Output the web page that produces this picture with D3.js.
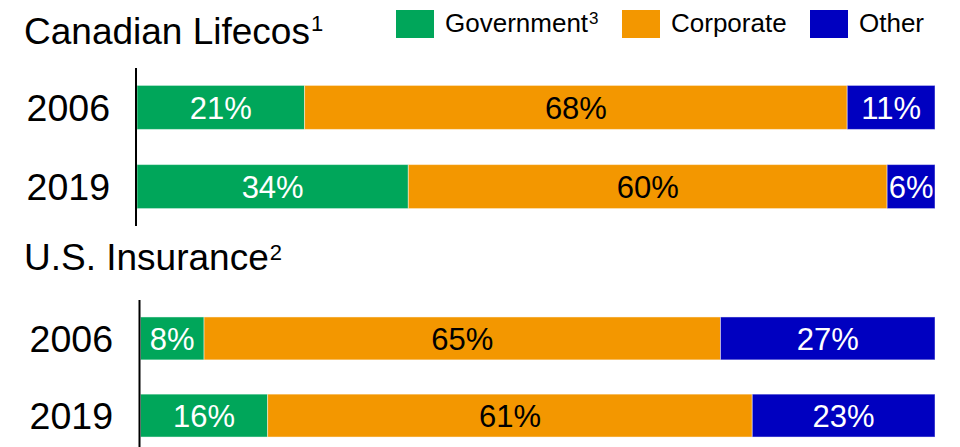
<!DOCTYPE html>
<html>
<head>
<meta charset="utf-8">
<script src="https://cdn.jsdelivr.net/npm/d3@7"></script>
<style>
  html, body { margin: 0; padding: 0; background: #fff; }
  svg { display: block; font-family: "Liberation Sans", Arial, sans-serif; }
</style>
</head>
<body>
<svg id="chart" width="960" height="447"></svg>
<script>
// Asset mix by category, percent of total
const years = ["2006", "2019"];
const seriesNames = ["Government", "Corporate", "Other"];
const seriesColors = ["#00a65a", "#f39700", "#0000c0"];
const labelColors = ["#ffffff", "#000000", "#ffffff"];

const canadaGovernment = [21, 34];
const canadaCorporate = [68, 60];
const canadaOther = [11, 6];

const usGovernment = [8, 16];
const usCorporate = [65, 61];
const usOther = [27, 23];

const svg = d3.select("#chart");

function rows(gov, corp, other) {
  return years.map((y, i) => ({ year: y, Government: gov[i], Corporate: corp[i], Other: other[i] }));
}

const panels = [
  { title: "Canadian Lifecos", note: "1", noteDy: -13, titleY: 44,
    data: rows(canadaGovernment, canadaCorporate, canadaOther),
    x0: 137, axisX: 136, yTop: 68, yBottom: 226, labelX: 110 },
  { title: "U.S. Insurance", note: "2", noteDy: -10, titleY: 270,
    data: rows(usGovernment, usCorporate, usOther),
    x0: 140.5, axisX: 139.5, yTop: 300, yBottom: 454, labelX: 113 }
];

const stack = d3.stack().keys(seriesNames);

panels.forEach(p => {
  const g = svg.append("g");

  const title = g.append("text")
    .attr("x", 24).attr("y", p.titleY)
    .attr("font-size", 37).attr("fill", "#000");
  title.append("tspan").text(p.title);
  title.append("tspan").attr("font-size", 22).attr("dx", 1).attr("dy", p.noteDy).text(p.note);

  const x = d3.scaleLinear().domain([0, 100]).range([p.x0, 935]);
  const y = d3.scaleBand().domain(years).range([p.yTop, p.yBottom])
    .paddingInner(0.444).paddingOuter(0.22);

  const layers = stack(p.data);

  const layer = g.selectAll("g.layer").data(layers).join("g").attr("class", "layer");

  layer.selectAll("rect").data(d => d.map(v => ({ v, key: d.key })))
    .join("rect")
    .attr("x", d => x(d.v[0]))
    .attr("y", d => y(d.v.data.year))
    .attr("width", d => x(d.v[1]) - x(d.v[0]))
    .attr("height", y.bandwidth())
    .attr("fill", d => seriesColors[seriesNames.indexOf(d.key)])
    .attr("stroke", "#ffffff").attr("stroke-opacity", 0.45).attr("stroke-width", 1);

  layer.selectAll("text").data(d => d.map(v => ({ v, key: d.key })))
    .join("text")
    .attr("x", d => (x(d.v[0]) + x(d.v[1])) / 2)
    .attr("y", d => y(d.v.data.year) + y.bandwidth() / 2)
    .attr("dy", "0.36em")
    .attr("text-anchor", "middle")
    .attr("font-size", 31)
    .attr("fill", d => labelColors[seriesNames.indexOf(d.key)])
    .text(d => (d.v[1] - d.v[0]) + "%");

  // category axis: plain vertical line with year labels
  const axis = d3.axisLeft(y).tickSize(0).tickPadding(p.axisX - p.labelX);
  const ag = g.append("g").attr("transform", `translate(${p.axisX},0)`).call(axis);
  ag.select(".domain").attr("stroke", "#000").attr("stroke-width", 2)
    .attr("d", `M0,${p.yTop}V${p.yBottom}`);
  ag.selectAll(".tick text").attr("font-size", 37.5).attr("fill", "#000")
    .attr("font-family", "Liberation Sans, Arial, sans-serif").attr("dy", "0.36em");
});

// legend
const legendX = [396, 622, 810];
const legend = svg.append("g");
seriesNames.forEach((name, i) => {
  legend.append("rect")
    .attr("x", legendX[i]).attr("y", 10).attr("width", 38).attr("height", 28)
    .attr("fill", seriesColors[i]);
  const t = legend.append("text")
    .attr("x", legendX[i] + 49).attr("y", 32)
    .attr("font-size", 26).attr("fill", "#000");
  t.append("tspan").text(name);
  if (name === "Government") {
    t.append("tspan").attr("font-size", 17).attr("dx", 1).attr("dy", -8).text("3");
  }
});
</script>
</body>
</html>
